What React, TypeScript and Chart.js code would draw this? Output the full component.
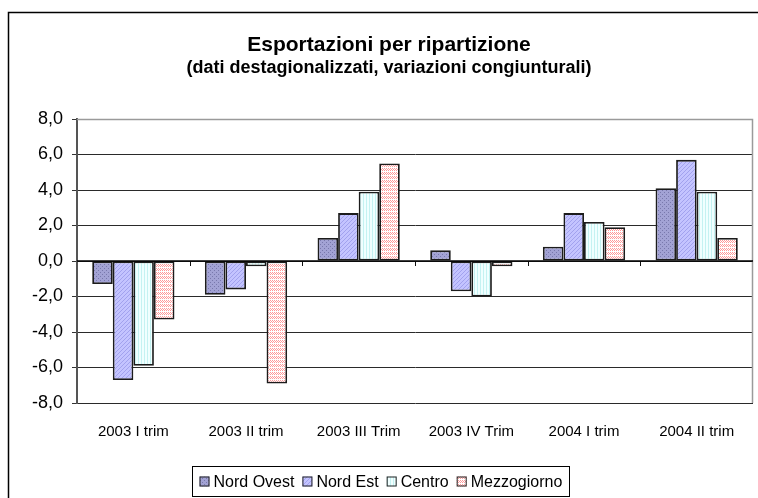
import React, { useEffect, useRef } from 'react';
import { Chart, registerables } from 'chart.js';

Chart.register(...registerables);

const categories = ['2003 I trim', '2003 II trim', '2003 III Trim', '2003 IV Trim', '2004 I trim', '2004 II trim'];
const nordOvest = [-1.3, -1.9, 1.3, 0.6, 0.8, 4.1];
const nordEst = [-6.7, -1.6, 2.7, -1.7, 2.7, 5.7];
const centro = [-5.9, -0.3, 3.9, -2.0, 2.2, 3.9];
const mezzogiorno = [-3.3, -6.9, 5.5, -0.3, 1.9, 1.3];
const seriesNames = ['Nord Ovest', 'Nord Est', 'Centro', 'Mezzogiorno'];
const yMin = -8;
const yMax = 8;
const yStep = 2;
const titleText = 'Esportazioni per ripartizione';
const subtitleText = '(dati destagionalizzati, variazioni congiunturali)';

const FONT = "'Liberation Sans', Arial, Helvetica, sans-serif";

function makePattern(kind: string): CanvasPattern | string {
  const c = document.createElement('canvas');
  const ctx = c.getContext('2d');
  if (!ctx) return '#ccc';
  if (kind === 'dots') {
    c.width = 4; c.height = 4;
    ctx.fillStyle = '#A2A2D4';
    ctx.fillRect(0, 0, 4, 4);
    ctx.fillStyle = '#7878AC';
    ctx.fillRect(0, 0, 1, 1);
    ctx.fillRect(2, 2, 1, 1);
  } else if (kind === 'diag') {
    c.width = 4; c.height = 4;
    ctx.fillStyle = '#C4C4FF';
    ctx.fillRect(0, 0, 4, 4);
    ctx.fillStyle = '#A2A2EE';
    for (let i = 0; i < 4; i++) ctx.fillRect((3 - i) % 4, i, 1, 1);
  } else if (kind === 'vert') {
    c.width = 3; c.height = 3;
    ctx.fillStyle = '#F0FFFF';
    ctx.fillRect(0, 0, 3, 3);
    ctx.fillStyle = '#C4F2F2';
    ctx.fillRect(0, 0, 1, 3);
  } else {
    c.width = 4; c.height = 4;
    ctx.fillStyle = '#FFFFFF';
    ctx.fillRect(0, 0, 4, 4);
    ctx.fillStyle = '#FF9A9A';
    ctx.fillRect(0, 0, 1, 1);
    ctx.fillRect(2, 0, 1, 1);
    ctx.fillRect(1, 1, 1, 1);
    ctx.fillRect(3, 1, 1, 1);
    ctx.fillRect(0, 2, 1, 1);
    ctx.fillRect(2, 2, 1, 1);
  }
  const p = ctx.createPattern(c, 'repeat');
  return p || '#ccc';
}

export default function App() {
  const ref = useRef<HTMLCanvasElement | null>(null);

  useEffect(() => {
    if (!ref.current) return;
    const fills = [makePattern('dots'), makePattern('diag'), makePattern('vert'), makePattern('checker')];
    const values = [nordOvest, nordEst, centro, mezzogiorno];

    const framePlugin = {
      id: 'framePlugin',
      beforeDraw(chart: any) {
        const ctx = chart.ctx;
        ctx.save();
        ctx.fillStyle = '#fff';
        ctx.fillRect(0, 0, chart.width, chart.height);
        ctx.restore();
      },
      afterDraw(chart: any) {
        const ctx = chart.ctx;
        const ca = chart.chartArea;
        const y = chart.scales.y;
        ctx.save();
        // plot border (gray) top and right
        ctx.strokeStyle = '#9a9a9a';
        ctx.lineWidth = 1.5;
        ctx.beginPath();
        ctx.moveTo(ca.left, ca.top + 0.5);
        ctx.lineTo(ca.right - 0.5, ca.top + 0.5);
        ctx.lineTo(ca.right - 0.5, ca.bottom);
        ctx.stroke();
        // category tick marks on zero line
        const y0 = y.getPixelForValue(0);
        ctx.strokeStyle = '#111';
        ctx.lineWidth = 1;
        const n = categories.length;
        const w = (ca.right - ca.left) / n;
        for (let i = 1; i < n; i++) {
          const px = Math.round(ca.left + i * w) + 0.5;
          ctx.beginPath();
          ctx.moveTo(px, y0);
          ctx.lineTo(px, y0 + 5);
          ctx.stroke();
        }
        // zero line
        ctx.strokeStyle = '#000';
        ctx.lineWidth = 1.5;
        ctx.beginPath();
        ctx.moveTo(ca.left, y0);
        ctx.lineTo(ca.right, y0);
        ctx.stroke();
        // outer frame
        ctx.strokeStyle = '#000';
        ctx.lineWidth = 1.5;
        ctx.beginPath();
        ctx.moveTo(8.5, chart.height + 2);
        ctx.lineTo(8.5, 12.5);
        ctx.lineTo(chart.width + 5, 12.5);
        ctx.stroke();
        // titles
        ctx.fillStyle = '#000';
        ctx.textAlign = 'center';
        ctx.textBaseline = 'middle';
        ctx.font = `bold 21px ${FONT}`;
        ctx.fillText(titleText, 389, 45);
        ctx.font = `bold 18px ${FONT}`;
        ctx.fillText(subtitleText, 389, 68);
        // legend
        ctx.font = `16px ${FONT}`;
        ctx.textAlign = 'left';
        const sq = 10;
        const gapSqText = 4;
        const gapItems = 8;
        const widths = seriesNames.map((s) => ctx.measureText(s).width);
        let total = 0;
        widths.forEach((tw, i) => {
          total += sq + gapSqText + tw + (i < widths.length - 1 ? gapItems : 0);
        });
        const padX = 7;
        const boxW = Math.round(total + padX * 2);
        const boxX = Math.round(380 - boxW / 2) + 0.5;
        const boxY = 466.5;
        const boxH = 30;
        ctx.fillStyle = '#fff';
        ctx.fillRect(boxX, boxY, boxW, boxH);
        ctx.strokeStyle = '#000';
        ctx.lineWidth = 1;
        ctx.strokeRect(boxX, boxY, boxW, boxH);
        let cx = boxX + padX;
        const cy = boxY + boxH / 2;
        seriesNames.forEach((s, i) => {
          ctx.fillStyle = fills[i] as any;
          ctx.fillRect(cx, cy - sq / 2, sq, sq);
          ctx.strokeStyle = '#222';
          ctx.lineWidth = 1;
          ctx.strokeRect(cx + 0.5, cy - sq / 2 + 0.5, sq - 1, sq - 1);
          ctx.fillStyle = '#000';
          ctx.fillText(s, cx + sq + gapSqText, cy + 1);
          cx += sq + gapSqText + widths[i] + gapItems;
        });
        ctx.restore();
      },
    };

    const chart = new Chart(ref.current, {
      type: 'bar',
      data: {
        labels: categories,
        datasets: seriesNames.map((name, i) => ({
          label: name,
          data: values[i],
          backgroundColor: fills[i] as any,
          borderColor: '#1c1c1c',
          borderWidth: 1.8,
          borderSkipped: false,
          categoryPercentage: 0.73,
          barPercentage: 1.0,
        })),
      },
      options: {
        animation: false,
        responsive: false,
        maintainAspectRatio: false,
        layout: { padding: { top: 119, right: 5, left: 0, bottom: 0 } },
        plugins: {
          legend: { display: false },
          title: { display: false },
          tooltip: { enabled: false },
        },
        scales: {
          x: {
            grid: { display: false },
            border: { display: false },
            ticks: {
              color: '#000',
              font: { family: FONT, size: 15 },
              padding: 12,
              maxRotation: 0,
              autoSkip: false,
            },
            afterFit: (s: any) => { s.height = 95; },
          },
          y: {
            min: yMin,
            max: yMax,
            ticks: {
              stepSize: yStep,
              color: '#000',
              font: { family: FONT, size: 18 },
              padding: 9,
              callback: (v: any) => Number(v).toFixed(1).replace('.', ','),
            },
            grid: {
              color: (c: any) => (c.tick && c.tick.value === yMax ? '#9a9a9a' : '#2a2a2a'),
              lineWidth: 1,
              tickLength: 5,
              tickColor: '#333',
            },
            border: { display: true, color: '#555', width: 2 },
            afterFit: (s: any) => { s.width = 77; },
          },
        },
      },
      plugins: [framePlugin],
    });
    return () => chart.destroy();
  }, []);

  return (
    <div style={{ position: 'absolute', left: 0, top: 0, width: 758, height: 498 }}>
      <canvas ref={ref} width={758} height={498} style={{ width: 758, height: 498, display: 'block' }} />
    </div>
  );
}
